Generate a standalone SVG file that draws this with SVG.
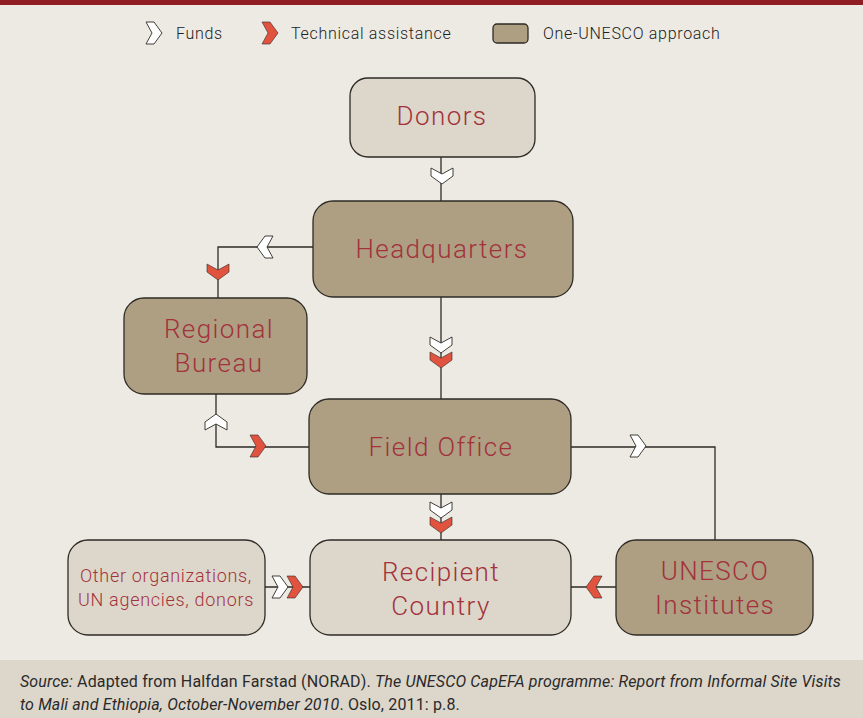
<svg xmlns="http://www.w3.org/2000/svg" width="863" height="718" viewBox="0 0 863 718">
<style>
.node-dark{fill:#ae9f83;stroke:#2e2a25;stroke-width:1.3}
.node-light{fill:#ddd6ca;stroke:#2e2a25;stroke-width:1.3}
.lbl{font-family:Roboto,"Liberation Sans",sans-serif;fill:#a3323b;text-anchor:middle;font-weight:300}
.big{font-size:26px;letter-spacing:1.4px}
.small{font-size:18px;letter-spacing:0.7px}
.leg{font-family:Roboto,"Liberation Sans",sans-serif;font-size:16px;fill:#222;letter-spacing:0.7px;font-weight:300}
.line{fill:none;stroke:#2e2a25;stroke-width:1.3}
.fund{fill:#ffffff;stroke:#2e2a25;stroke-width:0.9}
.tech{fill:#e2533f;stroke:#2e2a25;stroke-width:0.6}
.foot{font-family:Roboto,"Liberation Sans",sans-serif;font-size:16px;fill:#2a2a2a;letter-spacing:0.15px}
</style>
<defs>
<polygon id="chev" points="-8,-11 0,-11 8,0 0,11 -8,11 -2,0"/>
</defs>
<rect x="0" y="0" width="863" height="718" fill="#edeae4"/>
<rect x="0" y="0" width="863" height="5" fill="#8f1d24"/>
<g id="legend">
<use href="#chev" class="fund" transform="translate(154,33)"/>
<text class="leg" x="176" y="39">Funds</text>
<use href="#chev" class="tech" transform="translate(270,33)"/>
<text class="leg" x="291" y="39">Technical assistance</text>
<rect x="493" y="24" width="35" height="19" rx="4" class="node-dark"/>
<text class="leg" x="543" y="39">One-UNESCO approach</text>
</g>
<g id="connectors">
<path class="line" d="M441,157 V201"/>
<path class="line" d="M313,247 H218 V298"/>
<path class="line" d="M441,297 V399"/>
<path class="line" d="M216,394 V447 H309"/>
<path class="line" d="M571,447 H715 V540"/>
<path class="line" d="M441,494 V540"/>
<path class="line" d="M265,587 H310"/>
<path class="line" d="M571,587 H616"/>
<use href="#chev" class="fund" transform="translate(442,176) rotate(90)"/>
<use href="#chev" class="fund" transform="translate(265,247) rotate(180)"/>
<use href="#chev" class="tech" transform="translate(218,272) rotate(90)"/>
<use href="#chev" class="fund" transform="translate(441,345) rotate(90)"/>
<use href="#chev" class="tech" transform="translate(441,360) rotate(90)"/>
<use href="#chev" class="fund" transform="translate(216,422) rotate(-90)"/>
<use href="#chev" class="tech" transform="translate(258,446)"/>
<use href="#chev" class="fund" transform="translate(638,446)"/>
<use href="#chev" class="fund" transform="translate(441,510) rotate(90)"/>
<use href="#chev" class="tech" transform="translate(441,525) rotate(90)"/>
<use href="#chev" class="fund" transform="translate(280,587)"/>
<use href="#chev" class="tech" transform="translate(295,587)"/>
<use href="#chev" class="tech" transform="translate(594,587) rotate(180)"/>
</g>
<g id="donors">
<rect x="350" y="78" width="185" height="79" rx="18" class="node-light"/>
<text class="lbl big" x="442" y="125">Donors</text>
</g>
<g id="headquarters">
<rect x="313" y="201" width="260" height="96" rx="20" class="node-dark"/>
<text class="lbl big" x="442" y="258">Headquarters</text>
</g>
<g id="regional-bureau">
<rect x="124" y="298" width="183" height="96" rx="20" class="node-dark"/>
<text class="lbl big" x="219" y="338">Regional</text>
<text class="lbl big" x="219" y="372">Bureau</text>
</g>
<g id="field-office">
<rect x="309" y="399" width="262" height="95" rx="20" class="node-dark"/>
<text class="lbl big" x="441" y="456">Field Office</text>
</g>
<g id="recipient-country">
<rect x="310" y="540" width="261" height="95" rx="20" class="node-light"/>
<text class="lbl big" x="441" y="581">Recipient</text>
<text class="lbl big" x="441" y="615">Country</text>
</g>
<g id="other-organizations">
<rect x="68" y="540" width="197" height="95" rx="20" class="node-light"/>
<text class="lbl small" x="166" y="582">Other organizations,</text>
<text class="lbl small" x="166" y="606">UN agencies, donors</text>
</g>
<g id="unesco-institutes">
<rect x="616" y="540" width="197" height="95" rx="20" class="node-dark"/>
<text class="lbl big" x="715" y="580">UNESCO</text>
<text class="lbl big" x="715" y="614">Institutes</text>
</g>
<g id="footer">
<rect x="0" y="660" width="863" height="58" fill="#ddd6ca"/>
<text class="foot" x="20" y="687"><tspan font-style="italic">Source:</tspan> Adapted from Halfdan Farstad (NORAD). <tspan font-style="italic">The UNESCO CapEFA programme: Report from Informal Site Visits</tspan></text>
<text class="foot" x="20" y="710"><tspan font-style="italic">to Mali and Ethiopia, October-November 2010</tspan>. Oslo, 2011: p.8.</text>
</g>
</svg>
